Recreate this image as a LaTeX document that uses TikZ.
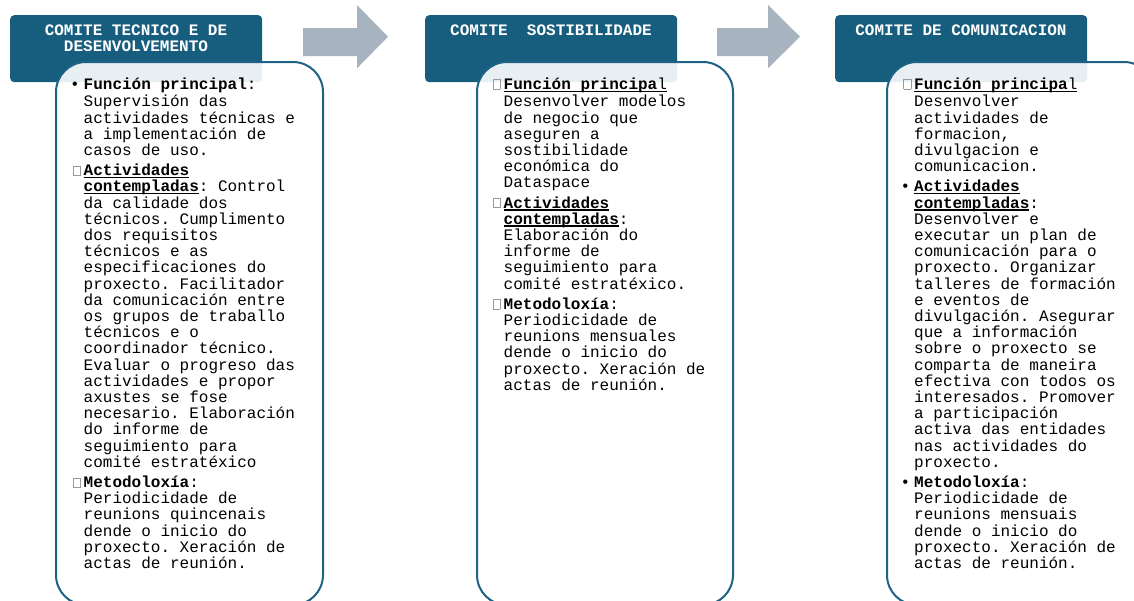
\documentclass[tikz,border=0pt]{standalone}
\usepackage{fontspec}
\setmainfont{Liberation Mono}
\definecolor{hdrblue}{HTML}{175D7E}
\definecolor{bordblue}{HTML}{1F6288}
\definecolor{arrowgray}{HTML}{A7B3BF}
\definecolor{tofugray}{HTML}{9A9A9A}
\frenchspacing
\newcommand\myul[1]{\setbox0\hbox{#1}\rlap{\rule[-2.4pt]{\wd0}{1.3pt}}\box0}
\newcommand\tofu{\llap{\textcolor{tofugray}{\vrule width 0.7pt height 10pt\vbox to 10pt{\hrule width 6.8pt height 0.7pt\vfil\hrule width 6.8pt height 0.7pt}\vrule width 0.7pt height 10pt}\hspace{2.8pt}}}
\newcommand\bul{\llap{•\hspace{4pt}}}
\tikzset{
  hdr/.style={fill=hdrblue, rounded corners=4pt, inner sep=0pt, anchor=north west, minimum width=252pt, minimum height=67pt},
  hdrtext/.style={text=white, font=\fontsize{16}{15}\selectfont\bfseries\frenchspacing, align=center, inner sep=0pt, anchor=north},
  bodybox/.style={draw=bordblue, line width=2pt, fill=white, fill opacity=0.9, rounded corners=30pt, inner sep=0pt, anchor=north west, minimum height=543pt},
  btext/.style={font=\fontsize{16}{16.2}\selectfont\frenchspacing, align=left, inner sep=0pt, anchor=north west, text=black},
  blockarrow/.style={fill=arrowgray}
}
\begin{document}
\begin{tikzpicture}[x=1pt,y=-1pt]
\useasboundingbox (0,0) rectangle (1134,600);
\clip (0,0) rectangle (1134,600);
% arrows
\fill[blockarrow] (303,28) -- (357,28) -- (357,5) -- (388,36.7) -- (357,68.3) -- (357,56) -- (303,56) -- cycle;
\fill[blockarrow] (717,28) -- (768,28) -- (768,5) -- (800,36.7) -- (768,68.3) -- (768,56) -- (717,56) -- cycle;
% headers
\node[hdr] (h1) at (10,15) {};
\node[hdr] (h2) at (425,15) {};
\node[hdr] (h3) at (835,15) {};
\node[hdrtext] (h1t) at (136,24.5) {\strut COMITE TECNICO E DE\\DESENVOLVEMENTO};
\node[hdrtext] (h2t) at (551,24.5) {\strut COMITE\ \ SOSTIBILIDADE};
\node[hdrtext] (h3t) at (961,24.5) {\strut COMITE DE COMUNICACION};
% bodies
\node[bodybox, minimum width=267pt] (b1) at (55,61) {};
\node[bodybox, minimum width=256pt] (b2) at (476,61) {};
\node[bodybox, minimum width=267pt] (b3) at (886,61) {};
% texts
\node[btext] (t1) at (83.5,77.66) {\strut\bul\textbf{Función principal}:\\
Supervisión das\\
actividades técnicas e\\
a implementación de\\
casos de uso.\\[4pt]
\tofu\myul{\textbf{Actividades}}\\
\myul{\textbf{contempladas}}: Control\\
da calidade dos\\
técnicos. Cumplimento\\
dos requisitos\\
técnicos e as\\
especificaciones do\\
proxecto. Facilitador\\
da comunicación entre\\
os grupos de traballo\\
técnicos e o\\
coordinador técnico.\\
Evaluar o progreso das\\
actividades e propor\\
axustes se fose\\
necesario. Elaboración\\
do informe de\\
seguimiento para\\
comité estratéxico\\[4pt]
\tofu\textbf{Metodoloxía}:\\
Periodicidade de\\
reunions quincenais\\
dende o inicio do\\
proxecto. Xeración de\\
actas de reunión.};
\node[btext] (t2) at (503.5,77.66) {\strut\tofu\myul{\textbf{Función principa}l}\\
Desenvolver modelos\\
de negocio que\\
aseguren a\\
sostibilidade\\
económica do\\
Dataspace\\[4pt]
\tofu\myul{\textbf{Actividades}}\\
\myul{\textbf{contempladas}}:\\
Elaboración do\\
informe de\\
seguimiento para\\
comité estratéxico.\\[4pt]
\tofu\textbf{Metodoloxía}:\\
Periodicidade de\\
reunions mensuales\\
dende o inicio do\\
proxecto. Xeración de\\
actas de reunión.};
\node[btext] (t3) at (914,77.66) {\strut\tofu\myul{\textbf{Función principa}l}\\
Desenvolver\\
actividades de\\
formacion,\\
divulgacion e\\
comunicacion.\\[4pt]
\bul\myul{\textbf{Actividades}}\\
\myul{\textbf{contempladas}}:\\
Desenvolver e\\
executar un plan de\\
comunicación para o\\
proxecto. Organizar\\
talleres de formación\\
e eventos de\\
divulgación. Asegurar\\
que a información\\
sobre o proxecto se\\
comparta de maneira\\
efectiva con todos os\\
interesados. Promover\\
a participación\\
activa das entidades\\
nas actividades do\\
proxecto.\\[4pt]
\bul\textbf{Metodoloxía}:\\
Periodicidade de\\
reunions mensuais\\
dende o inicio do\\
proxecto. Xeración de\\
actas de reunión.};
\end{tikzpicture}
\end{document}
